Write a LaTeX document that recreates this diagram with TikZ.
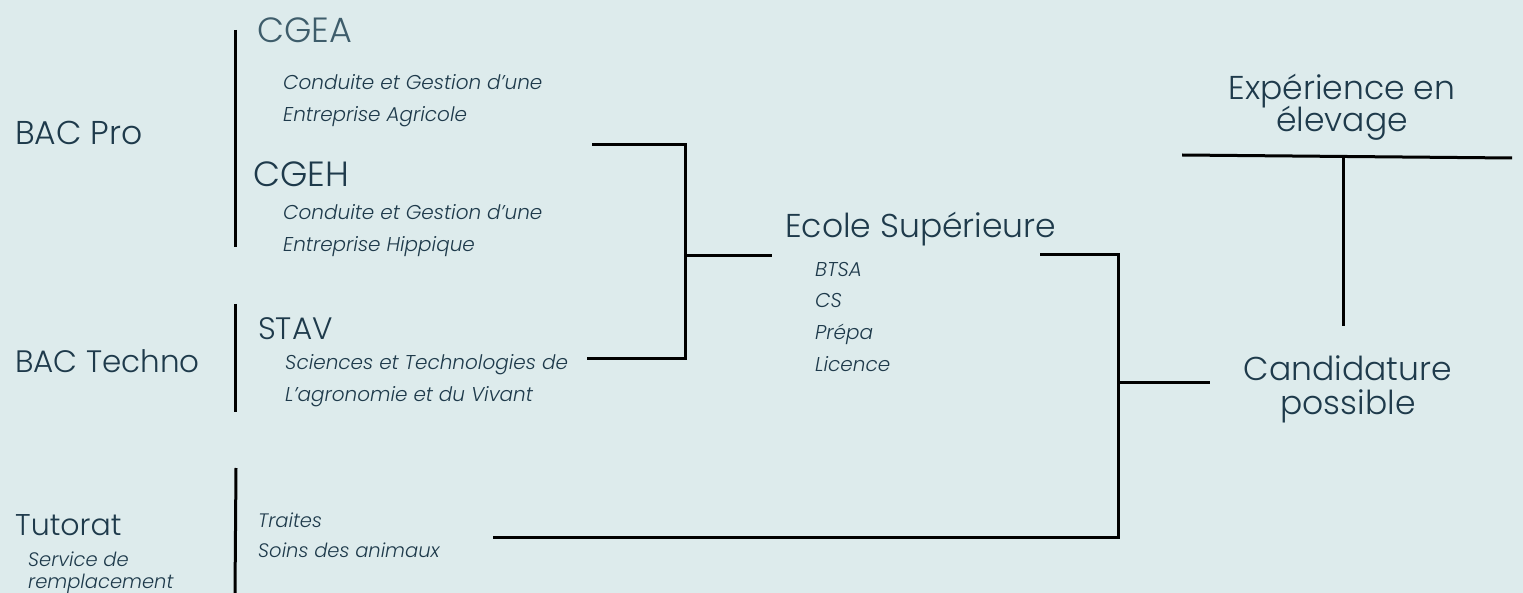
\documentclass[tikz,border=0pt]{standalone}
\usepackage{fontspec}
\setmainfont{Poppins}[UprightFont=* Light, ItalicFont=* Light Italic]
\definecolor{bg}{HTML}{DDEBEC}
\definecolor{ink}{HTML}{1E3A4B}
\definecolor{inkl}{HTML}{3E5D6B}
\tikzset{
  big/.style={font=\fontsize{32}{36}\selectfont, text=ink, inner sep=0pt, anchor=base west},
  mid/.style={font=\fontsize{33}{33}\selectfont, text=ink, inner sep=0pt, anchor=base},
  small/.style={font=\fontsize{20}{22}\selectfont\itshape, text=ink, inner sep=0pt, anchor=base west},
  wire/.style={line width=3pt, black}
}
\begin{document}
\begin{tikzpicture}[x=1pt,y=-1pt]
\useasboundingbox (0,0) rectangle (1523,593);
\fill[bg] (0,0) rectangle (1523,593);
% left labels
\node[big, font=\fontsize{33}{36}\selectfont] (bacpro) at (15,145) {BAC Pro};
\node[big, font=\fontsize{31}{36}\selectfont] (bactech) at (15,373) {BAC Techno};
\node[big, font=\fontsize{30}{36}\selectfont] (tutorat) at (15,535) {Tutorat};
\node[small, font=\fontsize{19.5}{22}\selectfont\itshape] (serv1) at (28,566) {Service de};
\node[small, font=\fontsize{19.5}{22}\selectfont\itshape] (serv2) at (28,588) {remplacement};
% separators
\coordinate (s1a) at (235,30); \coordinate (s1b) at (235,247);
\coordinate (s2a) at (235,304); \coordinate (s2b) at (235,412);
\coordinate (s3a) at (236,468); \coordinate (s3b) at (235,593);
\draw[wire] (s1a) -- (s1b);
\draw[wire] (s2a) -- (s2b);
\draw[wire] (s3a) -- (s3b);
% programmes
\node[big, text=inkl, font=\fontsize{35}{36}\selectfont] (cgea) at (257,43) {CGEA};
\node[small] (cgea1) at (283,90) {Conduite et Gestion d'une};
\node[small] (cgea2) at (283,122) {Entreprise Agricole};
\node[big, font=\fontsize{35}{36}\selectfont] (cgeh) at (253,187) {CGEH};
\node[small] (cgeh1) at (283,220) {Conduite et Gestion d'une};
\node[small] (cgeh2) at (283,252) {Entreprise Hippique};
\node[big, font=\fontsize{31}{36}\selectfont] (stav) at (258,340) {STAV};
\node[small] (stav1) at (285,370) {Sciences et Technologies de};
\node[small] (stav2) at (285,402) {L'agronomie et du Vivant};
\node[small, font=\fontsize{19.5}{22}\selectfont\itshape] (traites) at (258,527) {Traites};
\node[small, font=\fontsize{19.5}{22}\selectfont\itshape] (soins) at (258,557) {Soins des animaux};
% ecole
\node[big, font=\fontsize{33}{36}\selectfont] (ecole) at (785,238) {Ecole Supérieure};
\node[small] (btsa) at (815,277) {BTSA};
\node[small] (cs) at (815,308) {CS};
\node[small] (prepa) at (815,340) {Prépa};
\node[small] (licence) at (815,372) {Licence};
% right
\node[mid] (exp1) at (1342,100) {Expérience en};
\node[mid] (exp2) at (1342,132) {élevage};
\node[mid] (cand1) at (1348,381) {Candidature};
\node[mid] (cand2) at (1348,414) {possible};
% bracket 1
\coordinate (b1a) at (592,145); \coordinate (b1c) at (685,145);
\coordinate (b1d) at (685,359); \coordinate (b1b) at (587,359);
\coordinate (b1m) at (685,256); \coordinate (b1e) at (772,256);
\draw[wire] (b1a) -- (b1c) -- (b1d) -- (b1b);
\draw[wire] (b1m) -- (b1e);
% bracket 2
\coordinate (b2a) at (1040,255); \coordinate (b2c) at (1118,255);
\coordinate (b2d) at (1118,537); \coordinate (b2b) at (493,537);
\coordinate (b2m) at (1118,383); \coordinate (b2e) at (1210,383);
\draw[wire] (b2a) -- (b2c) -- (b2d) -- (b2b);
\draw[wire] (b2m) -- (b2e);
% T
\coordinate (ta) at (1182,155); \coordinate (tb) at (1512,158);
\coordinate (tm) at (1343,157); \coordinate (tn) at (1343,326);
\draw[wire] (ta) -- (tb);
\draw[wire] (tm) -- (tn);
\end{tikzpicture}
\end{document}
